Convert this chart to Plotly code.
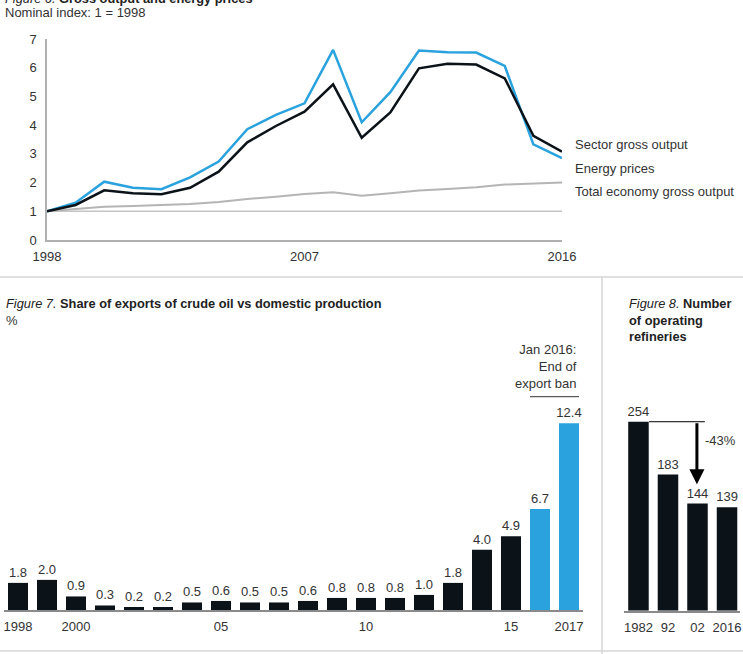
import plotly.graph_objects as go

W, H = 743, 654
FONT = "Liberation Sans, Arial, sans-serif"
TXT = "#333333"
BLACK = "#0b1218"
BLUE = "#2aa2de"
GREYLINE = "#b5b5b5"

# ---- Figure 6 data ----
years6 = list(range(1998, 2017))
energy_prices = [1.0, 1.30, 2.03, 1.82, 1.77, 2.18, 2.73, 3.86, 4.36, 4.76, 6.62,
                 4.10, 5.15, 6.60, 6.54, 6.53, 6.06, 3.33, 2.85]
sector_output = [1.0, 1.22, 1.73, 1.63, 1.59, 1.82, 2.38, 3.40, 3.97, 4.47, 5.42,
                 3.56, 4.44, 5.98, 6.14, 6.11, 5.63, 3.63, 3.08]
total_economy = [1.0, 1.08, 1.16, 1.18, 1.21, 1.25, 1.32, 1.43, 1.51, 1.60, 1.66,
                 1.54, 1.63, 1.72, 1.78, 1.84, 1.93, 1.96, 2.00]
series6_names = ["Sector gross output", "Energy prices", "Total economy gross output"]
x6_tickvals = [1998, 2007, 2016]

# ---- Figure 7 data ----
years7 = list(range(1998, 2018))
export_share = [1.8, 2.0, 0.9, 0.3, 0.2, 0.2, 0.5, 0.6, 0.5, 0.5, 0.6, 0.8, 0.8,
                0.8, 1.0, 1.8, 4.0, 4.9, 6.7, 12.4]
export_labels = [f"{v:.1f}" for v in export_share]
x7_tickvals = [1998, 2000, 2005, 2010, 2015, 2017]
x7_ticktext = ["1998", "2000", "05", "10", "15", "2017"]

# ---- Figure 8 data ----
ref_labels = ["1982", "92", "02", "2016"]
refineries = [254, 183, 144, 139]
ref_change = "-43%"


def px_x(p):
    return p / W


def px_y(p):
    return 1 - p / H


fig = go.Figure()

# Figure 6 lines
fig.add_trace(go.Scatter(x=years6, y=total_economy, mode="lines",
                         line=dict(color=GREYLINE, width=2), xaxis="x", yaxis="y",
                         name=series6_names[2]))
fig.add_trace(go.Scatter(x=years6, y=energy_prices, mode="lines",
                         line=dict(color=BLUE, width=2.5), xaxis="x", yaxis="y",
                         name=series6_names[1]))
fig.add_trace(go.Scatter(x=years6, y=sector_output, mode="lines",
                         line=dict(color=BLACK, width=2.5), xaxis="x", yaxis="y",
                         name=series6_names[0]))

# Figure 7 bars
colors7 = [BLUE if y >= 2016 else BLACK for y in years7]
fig.add_trace(go.Bar(x=years7, y=export_share, marker=dict(color=colors7, line=dict(width=0)),
                     width=0.69, text=export_labels, textposition="outside",
                     constraintext="none",
                     textfont=dict(size=13, color=TXT, family=FONT), cliponaxis=False,
                     xaxis="x2", yaxis="y2"))

# Figure 8 bars
fig.add_trace(go.Bar(x=list(range(len(ref_labels))), y=refineries,
                     marker=dict(color=BLACK, line=dict(width=0)), width=0.695,
                     text=[str(v) for v in refineries], textposition="outside",
                     constraintext="none",
                     textfont=dict(size=13, color=TXT, family=FONT), cliponaxis=False,
                     xaxis="x3", yaxis="y3"))

axis_font = dict(size=13, color=TXT, family=FONT)

fig.update_layout(
    width=W, height=H, margin=dict(l=0, r=0, t=0, b=0, autoexpand=False),
    paper_bgcolor="white", plot_bgcolor="white", showlegend=False,
    font=dict(family=FONT, color=TXT, size=13),
    xaxis=dict(domain=[px_x(47), px_x(562)], range=[1998, 2016], tickvals=x6_tickvals,
               showgrid=False, zeroline=False, showline=True, linecolor="#b0b0b0", linewidth=1.5,
               ticks="outside", ticklen=4, tickcolor="rgba(0,0,0,0)", tickfont=axis_font,
               automargin=False),
    yaxis=dict(domain=[px_y(240), px_y(39)], range=[0, 7], tickvals=list(range(8)),
               showgrid=False, zeroline=False, showline=True, linecolor="#b0b0b0", linewidth=1.5,
               ticks="outside", ticklen=6, tickcolor="rgba(0,0,0,0)", tickfont=axis_font,
               automargin=False),
    xaxis2=dict(domain=[px_x(4), px_x(583)], range=[1997.517, 2017.483], tickvals=x7_tickvals,
                ticktext=x7_ticktext, showgrid=False, zeroline=False, showline=True,
                linecolor="#8a8a8a", linewidth=1.5, ticks="outside", ticklen=4,
                tickcolor="rgba(0,0,0,0)", tickfont=axis_font, anchor="y2", automargin=False),
    yaxis2=dict(domain=[px_y(610), px_y(380)], range=[0, 230 / 15.06], visible=False,
                anchor="x2", automargin=False),
    xaxis3=dict(domain=[px_x(624), px_x(740)], range=[-0.49, 3.44],
                tickvals=list(range(len(ref_labels))), ticktext=ref_labels, showgrid=False,
                zeroline=False, showline=True, linecolor="#8a8a8a", linewidth=1.5,
                ticks="outside", ticklen=4, tickcolor="rgba(0,0,0,0)", tickfont=axis_font,
                anchor="y3", automargin=False),
    yaxis3=dict(domain=[px_y(610.7), px_y(380)], range=[0, 230.7 / 0.744], visible=False,
                anchor="x3", automargin=False),
)

# gridline at 1 in figure 6
fig.add_shape(type="line", xref="x", yref="y", x0=1998, x1=2016, y0=1, y1=1,
              line=dict(color="#c4c4c4", width=1.5), layer="below")

# separators
fig.add_shape(type="line", xref="paper", yref="paper", x0=0, x1=1, y0=px_y(277), y1=px_y(277),
              line=dict(color="#d6d6d6", width=1.5))
fig.add_shape(type="line", xref="paper", yref="paper", x0=0, x1=1, y0=px_y(651), y1=px_y(651),
              line=dict(color="#d6d6d6", width=1.5))
fig.add_shape(type="line", xref="paper", yref="paper", x0=px_x(602), x1=px_x(602),
              y0=px_y(277), y1=0, line=dict(color="#d6d6d6", width=1.5))

ann = []
# titles
ann.append(dict(text="<i>Figure 6.</i> <b>Gross output and energy prices</b>", x=px_x(3),
                y=px_y(-1.5), xref="paper", yref="paper", xanchor="left", yanchor="middle",
                showarrow=False, font=dict(size=12.8, color="#222")))
ann.append(dict(text="Nominal index: 1 = 1998", x=px_x(3), y=px_y(13), xref="paper",
                yref="paper", xanchor="left", yanchor="middle", showarrow=False,
                font=dict(size=13, color=TXT)))
ann.append(dict(text="<i>Figure 7.</i> <b>Share of exports of crude oil vs domestic production</b>",
                x=px_x(4), y=px_y(303), xref="paper", yref="paper", xanchor="left",
                yanchor="middle", showarrow=False, font=dict(size=12.8, color="#222")))
ann.append(dict(text="%", x=px_x(4), y=px_y(320), xref="paper", yref="paper", xanchor="left",
                yanchor="middle", showarrow=False, font=dict(size=13, color=TXT)))
ann.append(dict(text="<i>Figure 8.</i> <b>Number</b><br><b>of operating</b><br><b>refineries</b>",
                x=px_x(627), y=px_y(320), xref="paper", yref="paper", xanchor="left",
                yanchor="middle", align="left", showarrow=False,
                font=dict(size=12.8, color="#222")))
# series labels
for name, py in zip(series6_names, [145, 168, 191]):
    ann.append(dict(text=name, x=px_x(573), y=px_y(py), xref="paper", yref="paper",
                    xanchor="left", yanchor="middle", showarrow=False,
                    font=dict(size=13, color=TXT)))
# export ban note
ann.append(dict(text="Jan 2016:<br>End of<br>export ban", x=px_x(579), y=px_y(366.5),
                xref="paper", yref="paper", xanchor="right", yanchor="middle", align="right",
                showarrow=False, font=dict(size=13, color=TXT)))
# arrow in figure 8
ann.append(dict(x=1.98, y=170, ax=1.98, ay=254, xref="x3", yref="y3", axref="x3", ayref="y3",
                text="", showarrow=True, arrowhead=2, arrowsize=1, arrowwidth=3,
                arrowcolor="#000000"))
ann.append(dict(text=ref_change, x=2.18, y=229.4, xref="x3", yref="y3", xanchor="left",
                yanchor="middle", showarrow=False, font=dict(size=13, color=TXT)))
fig.update_layout(annotations=ann)

fig.add_shape(type="line", xref="paper", yref="paper", x0=px_x(530), x1=px_x(579),
              y0=px_y(396.7), y1=px_y(396.7), line=dict(color="#333", width=1))
fig.add_shape(type="line", xref="x3", yref="y3", x0=0.36, x1=2.25, y0=254, y1=254,
              line=dict(color="#000", width=1))

fig.write_html("out.html")
